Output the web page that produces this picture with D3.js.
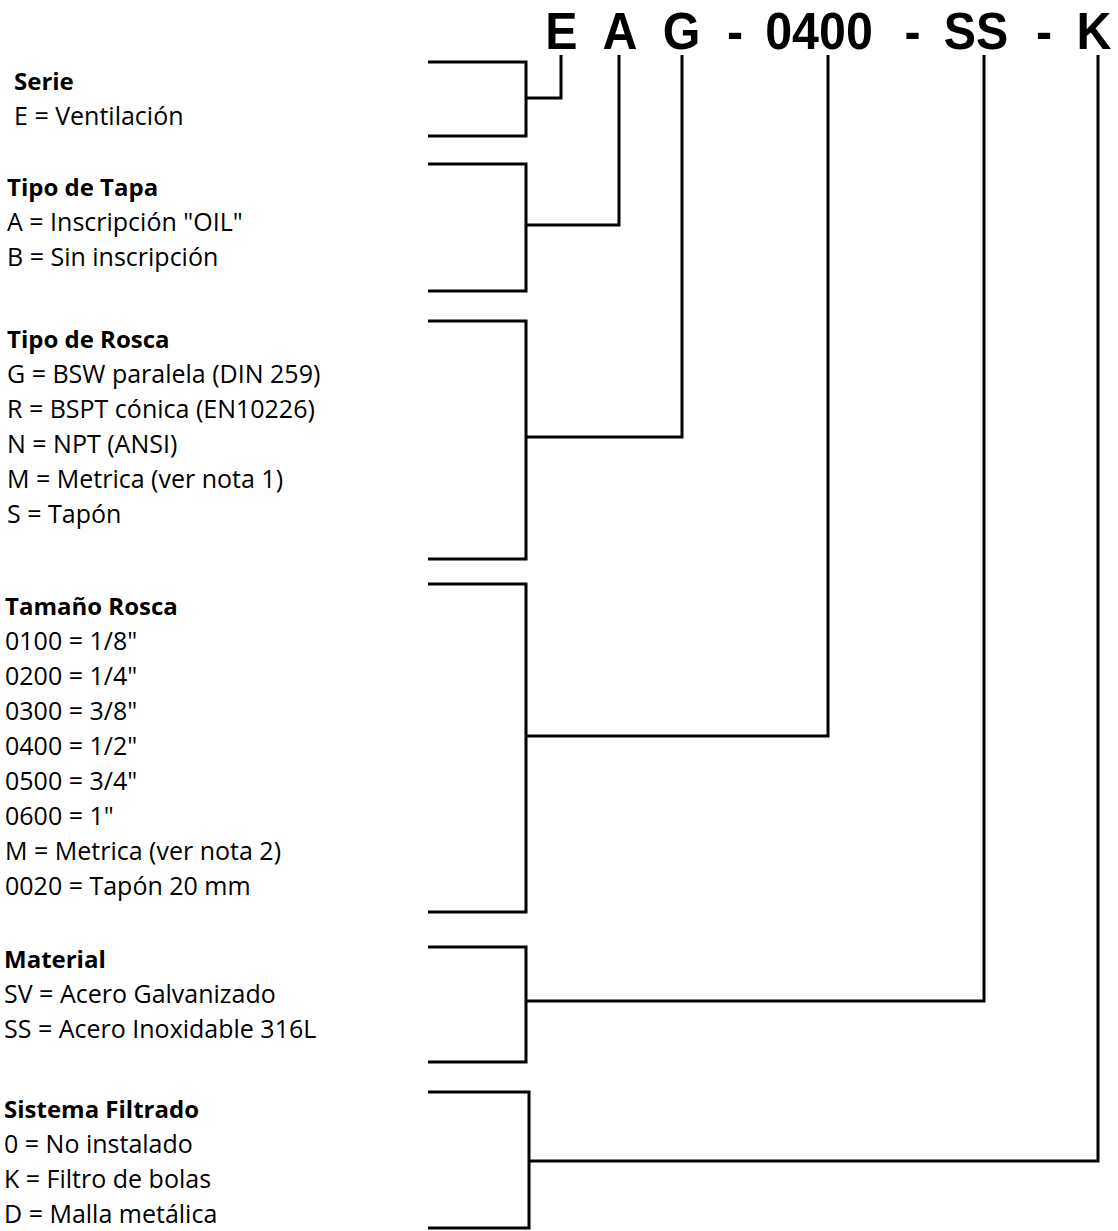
<!DOCTYPE html>
<html lang="es">
<head>
    <meta charset="UTF-8">
    <title>Código de pedido EAG-0400-SS-K</title>
    <style>
        body { margin: 0; background: #fff; }
        .code { font-family: "Liberation Sans", Arial, sans-serif; font-weight: bold; font-size: 52px; fill: #000; }
        .title { font-family: "Open Sans", sans-serif; font-weight: bold; font-size: 24px; fill: #000; }
        .item { font-family: "Open Sans", sans-serif; font-size: 25px; fill: #000; }
        .wire { fill: none; stroke: #000; stroke-width: 3px; stroke-linejoin: miter; }
    </style>
    <script src="https://d3js.org/d3.v7.min.js"></script>
</head>
<body>
    <div id="chart"></div>
    <script>
        const width = 1118;
        const height = 1231;

        // code parts, left to right
        const codeTokens = ["E", "A", "G", "-", "0400", "-", "SS", "-", "K"];

        // one group per code part
        const groupTitles = ["Serie", "Tipo de Tapa", "Tipo de Rosca", "Tamaño Rosca", "Material", "Sistema Filtrado"];
        const groupCodes = ["E", "A", "G", "0400", "SS", "K"];
        const groupItems = [
            ["E = Ventilación"],
            ["A = Inscripción \"OIL\"", "B = Sin inscripción"],
            ["G = BSW paralela (DIN 259)", "R = BSPT cónica (EN10226)", "N = NPT (ANSI)", "M = Metrica (ver nota 1)", "S = Tapón"],
            ["0100 = 1/8\"", "0200 = 1/4\"", "0300 = 3/8\"", "0400 = 1/2\"", "0500 = 3/4\"", "0600 = 1\"", "M = Metrica (ver nota 2)", "0020 = Tapón 20 mm"],
            ["SV = Acero Galvanizado", "SS = Acero Inoxidable 316L"],
            ["0 = No instalado", "K = Filtro de bolas", "D = Malla metálica"]
        ];

        // layout (pixels)
        const tokenX = [561.5, 620, 681.5, 735, 819, 912.5, 976, 1044, 1094];
        const wireX = { "E": 561, "A": 619, "G": 682, "0400": 828, "SS": 984, "K": 1098 };
        const titleY = [90, 196, 348, 615, 968, 1118];
        const textX = [14, 7, 7, 5, 4, 4];
        const bracketTop = [62, 164, 321, 584, 947, 1092];
        const bracketBottom = [136, 291, 559, 912, 1062, 1228];
        const bracketMid = [98, 225, 437, 736, 1001, 1161];
        const bracketX = [526, 526, 526, 526, 526, 529];
        const bracketLeft = 428;
        const lineStep = 35;
        const codeBaseline = 49;
        const wireTop = 55;

        const svg = d3.select("#chart").append("svg")
            .attr("width", width)
            .attr("height", height);

        // code header
        svg.selectAll("text.code")
            .data(codeTokens)
            .join("text")
            .attr("class", "code")
            .attr("text-anchor", "middle")
            .attr("transform", (d, i) => `translate(${tokenX[i]},${codeBaseline}) scale(0.93,1)`)
            .text(d => d);

        const groups = svg.selectAll("g.group")
            .data(groupTitles)
            .join("g")
            .attr("class", "group");

        groups.append("text")
            .attr("class", "title")
            .attr("x", (d, i) => textX[i])
            .attr("y", (d, i) => titleY[i])
            .text(d => d);

        groups.each(function (d, i) {
            d3.select(this).selectAll("text.item")
                .data(groupItems[i])
                .join("text")
                .attr("class", "item")
                .attr("x", textX[i])
                .attr("y", (t, j) => titleY[i] + lineStep * (j + 1))
                .text(t => t);
        });

        // bracket round each group
        groups.append("path")
            .attr("class", "wire")
            .attr("d", (d, i) => {
                const p = d3.path();
                p.moveTo(bracketLeft, bracketTop[i]);
                p.lineTo(bracketX[i], bracketTop[i]);
                p.lineTo(bracketX[i], bracketBottom[i]);
                p.lineTo(bracketLeft, bracketBottom[i]);
                return p.toString();
            });

        // wire from bracket up to its code part
        groups.append("path")
            .attr("class", "wire")
            .attr("d", (d, i) => {
                const p = d3.path();
                p.moveTo(bracketX[i], bracketMid[i]);
                p.lineTo(wireX[groupCodes[i]], bracketMid[i]);
                p.lineTo(wireX[groupCodes[i]], wireTop);
                return p.toString();
            });
    </script>
</body>
</html>
